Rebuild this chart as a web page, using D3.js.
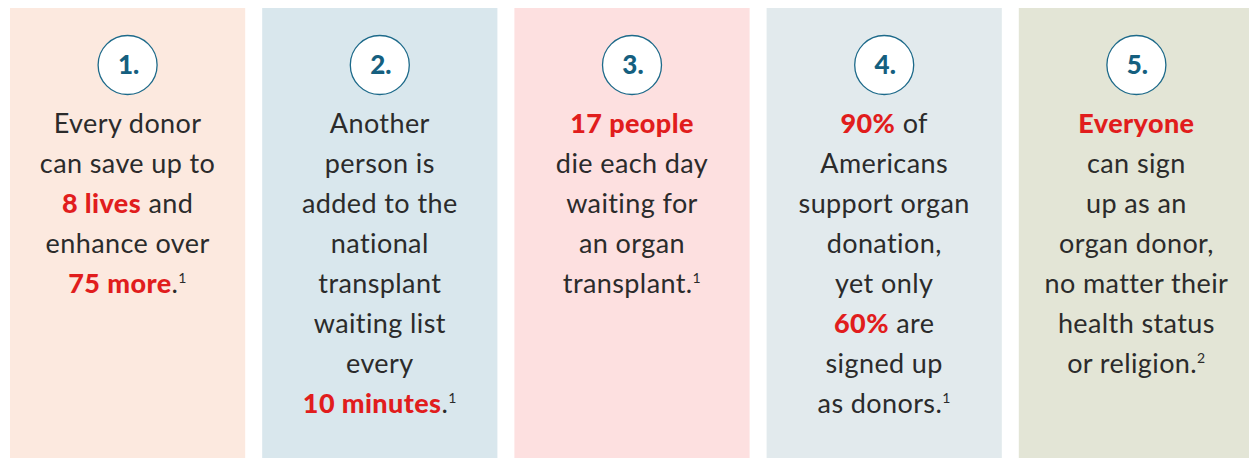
<!DOCTYPE html>
<html lang="en">
<head>
    <meta charset="UTF-8">
    <title>Organ donation facts</title>
    <script src="https://cdn.jsdelivr.net/npm/d3@7/dist/d3.min.js"></script>
    <style>
        body { margin: 0; background: #fff; }
        .line { font-family: Lato, sans-serif; font-size: 27px; letter-spacing: 0.4px; fill: #2b2b2b; }
        .hl { fill: #e11d1d; font-weight: 900; }
        .num { font-family: Lato, sans-serif; font-weight: 900; font-size: 26px; fill: #155f7f; }
    </style>
</head>
<body>
    <div id="chart"></div>
    <script>
        // panel numbers, background colours and text lines (**x** = red bold, ^n = footnote)
        const numbers = ["1.", "2.", "3.", "4.", "5."];
        const panelColors = ["#fce9df", "#d9e7ed", "#fde0e0", "#e2eaed", "#e3e5d6"];
        const panelLines = [
            ["Every donor", "can save up to", "**8 lives** and", "enhance over", "**75 more**.^1"],
            ["Another", "person is", "added to the", "national", "transplant", "waiting list", "every", "**10 minutes**.^1"],
            ["**17 people**", "die each day", "waiting for", "an organ", "transplant.^1"],
            ["**90%** of", "Americans", "support organ", "donation,", "yet only", "**60%** are", "signed up", "as donors.^1"],
            ["**Everyone**", "can sign", "up as an", "organ donor,", "no matter their", "health status", "or religion.^2"]
        ];

        const width = 1249, height = 458;
        const svg = d3.select("#chart").append("svg")
            .attr("width", width)
            .attr("height", height);

        const x = d3.scaleBand()
            .domain(numbers)
            .range([10, 1254])
            .paddingInner(0.0674)
            .paddingOuter(0);

        // baseline of each text line
        const y = d3.scaleLinear().domain([0, 1]).range([133, 173]);

        const panel = svg.selectAll("g.panel")
            .data(numbers)
            .enter().append("g")
            .attr("class", "panel")
            .attr("transform", d => "translate(" + x(d) + ",0)");

        panel.append("rect")
            .attr("y", 8)
            .attr("width", x.bandwidth())
            .attr("height", height)
            .attr("fill", (d, i) => panelColors[i]);

        const cx = x.bandwidth() / 2;

        panel.append("circle")
            .attr("cx", cx)
            .attr("cy", 65)
            .attr("r", 29.5)
            .attr("fill", "#fff")
            .attr("stroke", "#1d6a8a")
            .attr("stroke-width", 1.3);

        panel.append("text")
            .attr("class", "num")
            .attr("x", cx + 1)
            .attr("y", 74)
            .attr("text-anchor", "middle")
            .text(d => d);

        function parse(line) {
            const parts = [];
            const re = /\*\*(.+?)\*\*|\^(\d)|([^*^]+)/g;
            let m;
            while ((m = re.exec(line)) !== null) {
                if (m[1]) parts.push({ t: m[1], kind: "hl" });
                else if (m[2]) parts.push({ t: m[2], kind: "sup" });
                else parts.push({ t: m[3], kind: "txt" });
            }
            return parts;
        }

        panel.each(function (d, i) {
            const g = d3.select(this);
            const txt = g.selectAll("text.line")
                .data(panelLines[i])
                .enter().append("text")
                .attr("class", "line")
                .attr("x", cx)
                .attr("y", (l, j) => y(j))
                .attr("text-anchor", "middle");

            txt.selectAll("tspan")
                .data(l => parse(l))
                .enter().append("tspan")
                .attr("class", p => p.kind === "hl" ? "hl" : null)
                .attr("font-size", p => p.kind === "sup" ? 14 : null)
                .attr("dy", p => p.kind === "sup" ? -10 : null)
                .text(p => p.t);
        });
    </script>
</body>
</html>
